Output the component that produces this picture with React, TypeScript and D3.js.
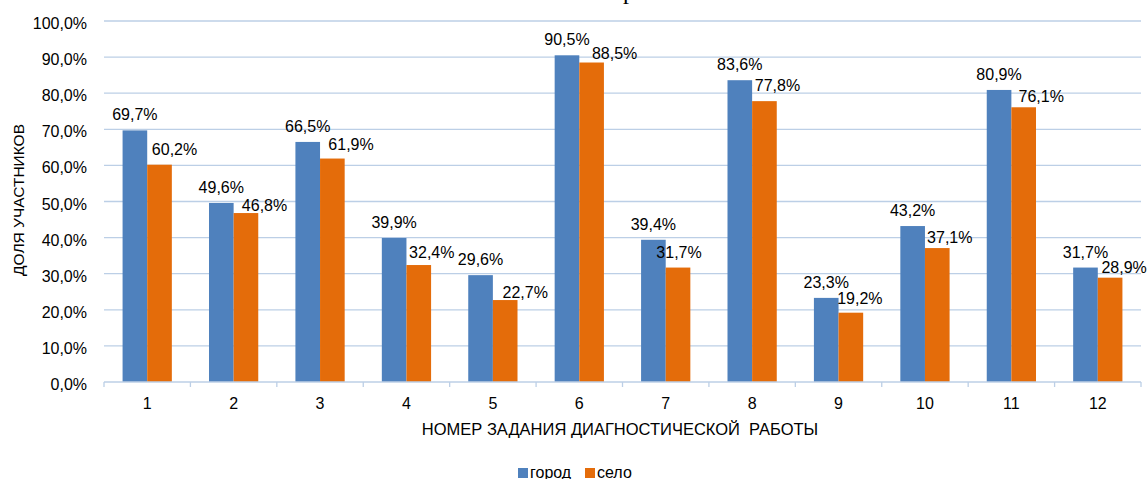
import React from 'react';
import * as d3 from 'd3';

// values (percent)
const tasks = ['1', '2', '3', '4', '5', '6', '7', '8', '9', '10', '11', '12'];
const city = [69.7, 49.6, 66.5, 39.9, 29.6, 90.5, 39.4, 83.6, 23.3, 43.2, 80.9, 31.7];
const village = [60.2, 46.8, 61.9, 32.4, 22.7, 88.5, 31.7, 77.8, 19.2, 37.1, 76.1, 28.9];
const yTicks = [0, 10, 20, 30, 40, 50, 60, 70, 80, 90, 100];
const seriesNames = ['город', 'село'];

// the orange labels were dragged by hand in the original, so they sit off centre
const villageLabelDx = [15, 18.6, 18.7, 13, 20, 23, 1, 13, 9, 12.5, 17.5, 14];
const villageLabelLift = [15, 8, 14, 13, 8, 9.4, 14.6, 15.7, 14.4, 10.4, 10.6, 10.6];

const W = 1147;
const H = 479;
const left = 104;
const right = 1141;
const top = 21;
const bottom = 382;

const BLUE = '#4F81BD';
const ORANGE = '#E46C0A';
const GRID = '#BCCFE6';
const FONT = 'Liberation Sans, Arial, sans-serif';

const fmt = (v: number) => v.toFixed(1).replace('.', ',') + '%';

export default function App() {
    const x = d3.scaleBand<string>()
        .domain(tasks)
        .range([left, right])
        .paddingInner(0.43)
        .paddingOuter(0.215);

    const xs = d3.scaleBand<string>()
        .domain(seriesNames)
        .range([0, x.bandwidth()]);

    const y = d3.scaleLinear().domain([0, 100]).range([bottom, top]);

    const step = x.step();
    const boundaries = d3.range(tasks.length + 1).map(i => left + i * step);

    return (
        <svg width={W} height={H} style={{position: 'absolute', left: 0, top: 0, background: '#fff'}}
             fontFamily={FONT}>
            {/* clipped remains of the title above the picture */}
            <text x={629} y={-1} fontFamily="Liberation Serif, Times New Roman, serif" fontSize={24}
                  textAnchor="middle" fill="#000">р</text>

            {yTicks.map(t => (
                <g key={t}>
                    {t > 0 && <line x1={left} x2={right} y1={y(t)} y2={y(t)} stroke={GRID} strokeWidth={1.3}/>}
                    <text x={87} y={y(t) + 8} textAnchor="end" fontSize={16}>{fmt(t)}</text>
                </g>
            ))}

            {tasks.map((t, i) => {
                const x0 = x(t) as number;
                const xb = x0 + (xs('город') as number);
                const xo = x0 + (xs('село') as number);
                const bw = xs.bandwidth();
                return (
                    <g key={t}>
                        <rect x={xb} y={y(city[i])} width={bw} height={bottom - y(city[i])} fill={BLUE}/>
                        <rect x={xo} y={y(village[i])} width={bw} height={bottom - y(village[i])} fill={ORANGE}/>
                        <text x={xb + bw / 2} y={y(city[i]) - 10} textAnchor="middle" fontSize={16}>{fmt(city[i])}</text>
                        <text x={xo + bw / 2 + villageLabelDx[i]} y={y(village[i]) - villageLabelLift[i] + 5.5}
                              textAnchor="middle" fontSize={16}>{fmt(village[i])}</text>
                        <text x={x0 + x.bandwidth() / 2} y={bottom + 27} textAnchor="middle" fontSize={16}>{t}</text>
                    </g>
                );
            })}

            <line x1={left} x2={right} y1={bottom} y2={bottom} stroke={GRID} strokeWidth={1.5}/>
            {boundaries.map((b, i) => (
                <line key={i} x1={b} x2={b} y1={bottom} y2={bottom + 5} stroke={GRID} strokeWidth={1.3}/>
            ))}

            <text x={620} y={435} textAnchor="middle" fontSize={16.5} xmlSpace="preserve">НОМЕР ЗАДАНИЯ ДИАГНОСТИЧЕСКОЙ  РАБОТЫ</text>
            <text transform="translate(24,200) rotate(-90)" textAnchor="middle" fontSize={15.5}>ДОЛЯ УЧАСТНИКОВ</text>

            <rect x={518} y={468} width={10} height={10} fill={BLUE}/>
            <text x={530} y={478} fontSize={16}>{seriesNames[0]}</text>
            <rect x={585} y={468} width={10} height={10} fill={ORANGE}/>
            <text x={597} y={478} fontSize={16}>{seriesNames[1]}</text>
        </svg>
    );
}
